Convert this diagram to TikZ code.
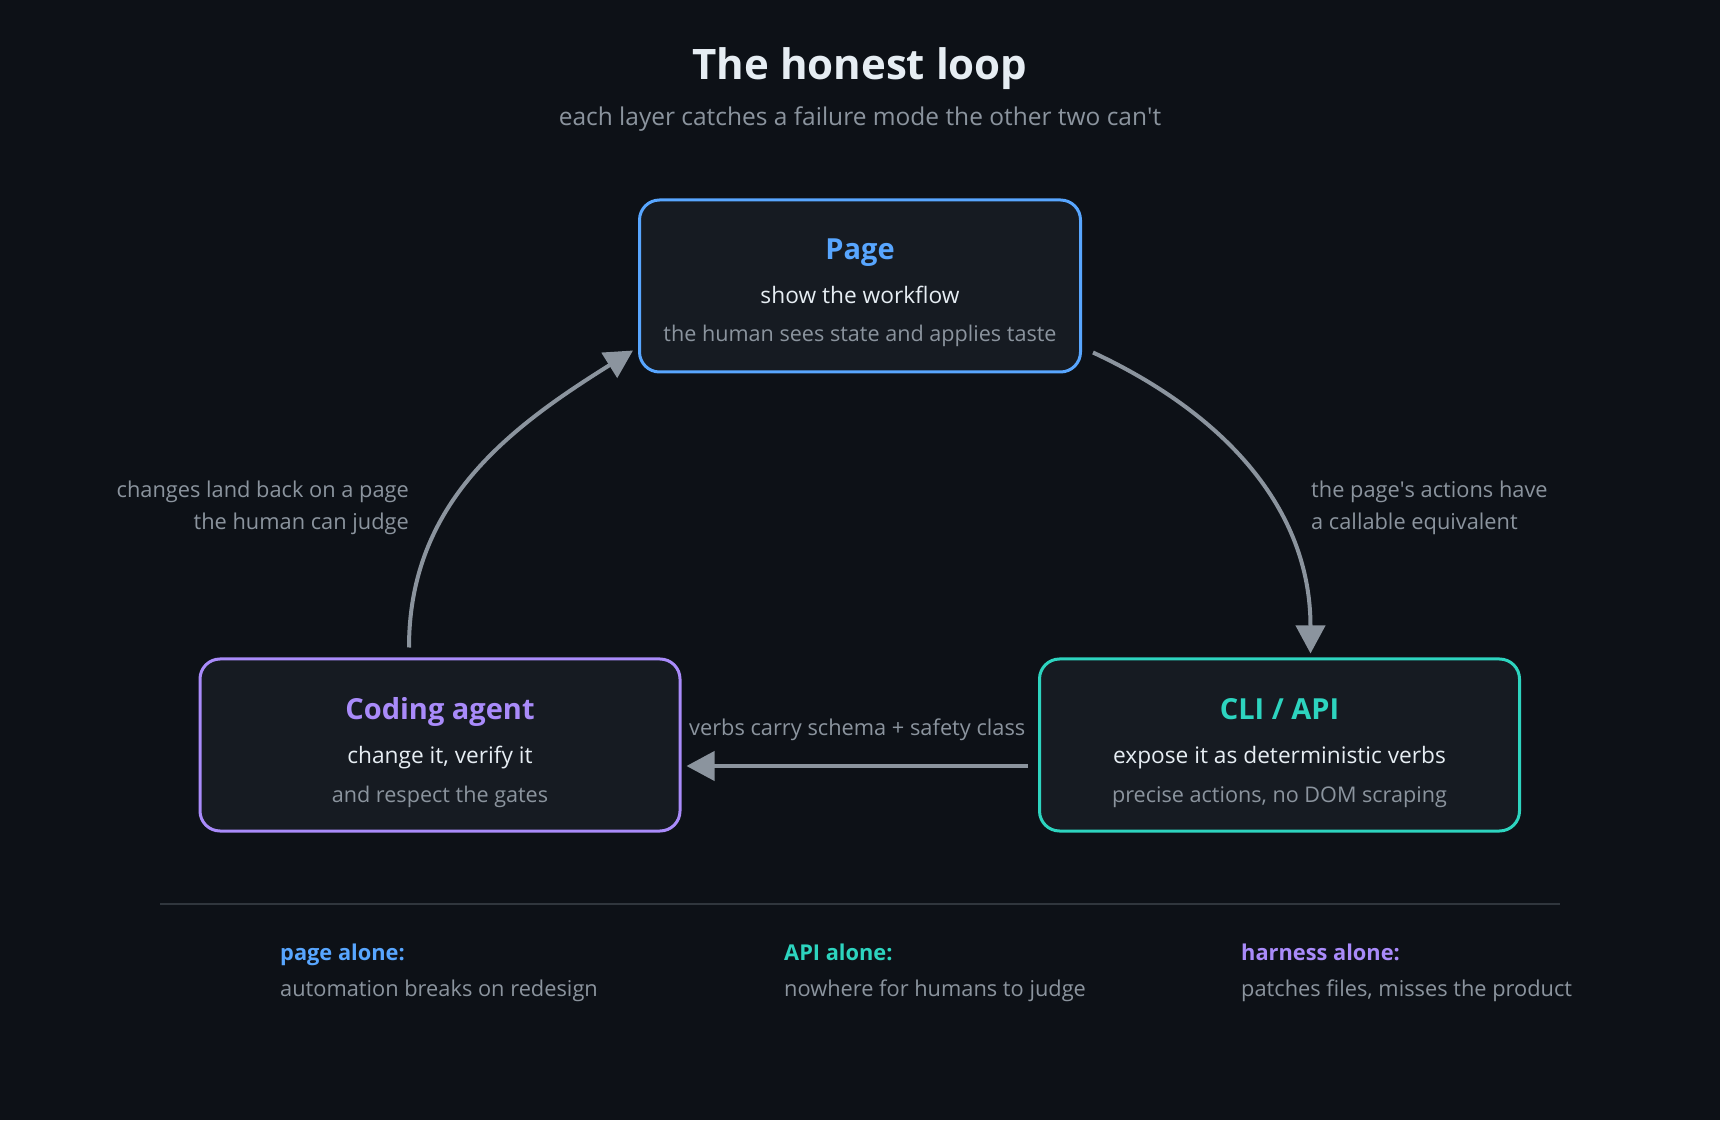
\documentclass[tikz,border=0pt]{standalone}
\usepackage{fontspec}
\setmainfont{Open Sans}
\usetikzlibrary{arrows.meta,positioning}

\definecolor{bgdark}{HTML}{0D1117}
\definecolor{boxfill}{HTML}{161B22}
\definecolor{pageblue}{HTML}{58A6FF}
\definecolor{apiteal}{HTML}{2DD4BF}
\definecolor{agentviolet}{HTML}{A98BFA}
\definecolor{inktext}{HTML}{E6EDF3}
\definecolor{mutedtext}{HTML}{8B949E}
\definecolor{rulegray}{HTML}{30363D}

% velicina slova i prored
\newcommand{\fs}[2]{\fontsize{#1}{#2}\selectfont}

\tikzset{
  layer/.style={draw=#1, line width=3pt, fill=boxfill, rounded corners=20pt,
    minimum height=172pt},
  layertitle/.style={text=#1, font=\fs{29}{34}\bfseries, inner sep=0pt, anchor=base},
  layerline/.style={text=inktext, font=\fs{22.7}{27}, inner sep=0pt, anchor=base},
  layernote/.style={text=mutedtext, font=\fs{21.6}{26}, inner sep=0pt, anchor=base},
  flow/.style={draw=mutedtext, line width=4pt,
    -{Triangle[length=28pt,width=29pt]}},
  edgenote/.style={text=mutedtext, font=\fs{21.8}{32}, inner sep=0pt},
  alonehead/.style={text=#1, font=\fs{21.8}{26}\bfseries, inner sep=0pt, anchor=base west},
  alonenote/.style={text=mutedtext, font=\fs{21.8}{26}, inner sep=0pt, anchor=base west},
}

\begin{document}
\begin{tikzpicture}[x=1pt, y=1pt]
    % fond i granice slike
    \fill [bgdark] (0,0) rectangle (1720,1120);
    \useasboundingbox (0,0) rectangle (1720,1120);

    % naslov
    \node [text=inktext, font=\fs{42}{50}\bfseries, inner sep=0pt, anchor=base] (title) at (860,1040) {The honest loop};
    \node [text=mutedtext, font=\fs{24.5}{29}, inner sep=0pt, anchor=base] (subtitle) at (860,994) {each layer catches a failure mode the other two can\textquotesingle t};

    % tri sloja
    \node [layer=pageblue, minimum width=441pt] (page) at (860,834) {};
    \node [layer=agentviolet, minimum width=480pt] (agent) at (440,375) {};
    \node [layer=apiteal, minimum width=480pt] (api) at (1279.5,375) {};

    \node [layertitle=pageblue] (pagetitle) at ([yshift=26pt]page.center) {Page};
    \node [layerline] (pageline) at ([yshift=-18pt]page.center) {show the workflow};
    \node [layernote] (pagenote) at ([yshift=-56pt]page.center) {the human sees state and applies taste};

    \node [layertitle=agentviolet] (agenttitle) at ([yshift=25.5pt]agent.center) {Coding agent};
    \node [layerline] (agentline) at ([yshift=-18.5pt]agent.center) {change it, verify it};
    \node [layernote] (agentnote) at ([yshift=-57pt]agent.center) {and respect the gates};

    \node [layertitle=apiteal] (apititle) at ([yshift=25.5pt]api.center) {CLI / API};
    \node [layerline] (apiline) at ([yshift=-18.5pt]api.center) {expose it as deterministic verbs};
    \node [layernote] (apinote) at ([yshift=-57pt]api.center) {precise actions, no DOM scraping};

    % strelice petlje
    \draw [flow] ([xshift=11pt,yshift=21pt]page.south east)
        to[out=-25, in=90] ([xshift=31pt,yshift=4pt]api.north);
    \draw [flow] ([xshift=-10pt,yshift=-21pt]api.west)
        -- ([xshift=5pt,yshift=-21pt]agent.east)
        node[edgenote, midway, above=23pt] (verbsnote) {verbs carry schema + safety class};
    \draw [flow] ([xshift=-31pt,yshift=10pt]agent.north)
        to[out=90, in=-148] ([xshift=-5pt,yshift=23pt]page.south west);

    % oznake uz zakrivljene strelice
    \node [edgenote, align=right, anchor=east] (backnote) at (409,612)
        {changes land back on a page\\the human can judge};
    \node [edgenote, align=left, anchor=west] (callnote) at (1311,612)
        {the page\textquotesingle s actions have\\a callable equivalent};

    % razdelnik i tri "samo" napomene
    \draw [rulegray, line width=2pt] (160,216) -- (1560,216);
    \node [alonehead=pageblue] (pagealone) at (280,160) {page alone:};
    \node [alonenote] at (280,124) {automation breaks on redesign};
    \node [alonehead=apiteal] (apialone) at (784,160) {API alone:};
    \node [alonenote] at (784,124) {nowhere for humans to judge};
    \node [alonehead=agentviolet] (harnessalone) at (1241,160) {harness alone:};
    \node [alonenote] at (1241,124) {patches files, misses the product};
\end{tikzpicture}
\end{document}
